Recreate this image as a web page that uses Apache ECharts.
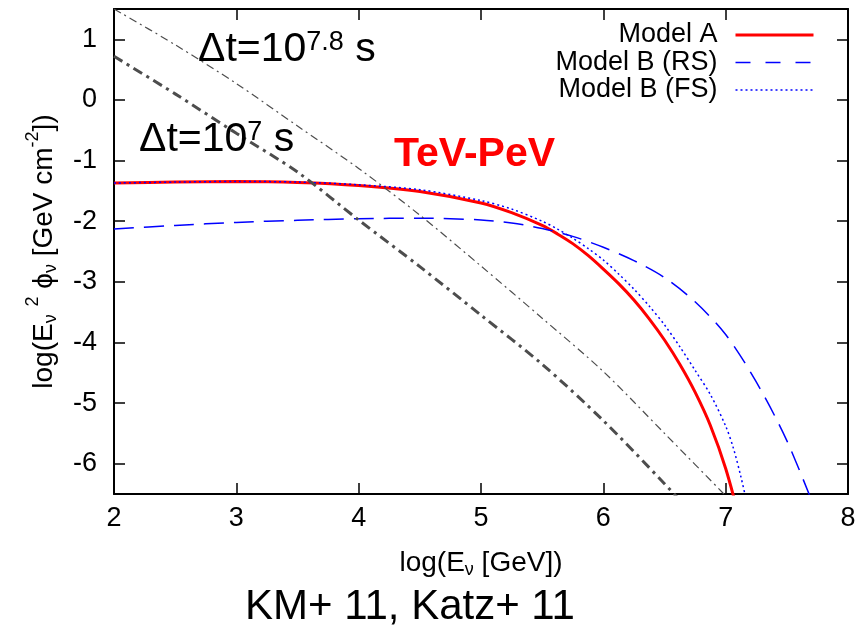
<!DOCTYPE html>
<html>
<head>
<meta charset="utf-8">
<script src="https://cdn.jsdelivr.net/npm/echarts@6/dist/echarts.min.js"></script>
<style>
  html, body { margin: 0; padding: 0; background: #ffffff; }
  #chart { width: 865px; height: 628px; }
</style>
</head>
<body>
<div id="chart"></div>
<script>
// Neutrino spectra: log10(E_nu / GeV) against log10(E_nu^2 phi_nu / GeV cm^-2)

// Model A
const energyModelA = [2, 2.5, 3, 3.5, 4, 4.5, 5, 5.25, 5.5, 5.625, 5.75, 5.875, 6, 6.125, 6.25, 6.375, 6.5, 6.625, 6.75, 6.875, 7, 7.125];
const fluxModelA   = [-1.37, -1.355, -1.345, -1.36, -1.41, -1.51, -1.70, -1.86, -2.07, -2.21, -2.37, -2.565, -2.79, -3.03, -3.30, -3.61, -3.96, -4.36, -4.82, -5.37, -6.08, -7.00];

// Model B, reverse shock
const energyModelBRS = [2, 2.5, 3, 3.5, 4, 4.5, 5, 5.25, 5.5, 5.75, 6, 6.25, 6.5, 6.75, 7, 7.25, 7.5, 7.75];
const fluxModelBRS   = [-2.13, -2.07, -2.02, -1.985, -1.96, -1.95, -1.98, -2.03, -2.12, -2.25, -2.43, -2.65, -2.93, -3.33, -3.87, -4.65, -5.62, -6.85];

// Model B, forward shock
const energyModelBFS = [2, 2.5, 3, 3.5, 4, 4.5, 5, 5.25, 5.5, 5.625, 5.75, 5.875, 6, 6.125, 6.25, 6.375, 6.5, 6.625, 6.75, 6.875, 7, 7.0625, 7.125, 7.1875];
const fluxModelBFS   = [-1.37, -1.355, -1.345, -1.355, -1.40, -1.48, -1.66, -1.80, -2.00, -2.13, -2.28, -2.45, -2.64, -2.87, -3.12, -3.40, -3.71, -4.07, -4.46, -4.86, -5.38, -5.74, -6.22, -6.78];

// Atmospheric background integrated over dt = 10^7.8 s
const energyLong = [2, 2.5, 3, 3.5, 4, 4.5, 5, 5.5, 6, 6.5, 7, 7.1];
const fluxLong   = [1.50, 0.91, 0.27, -0.43, -1.13, -1.90, -2.74, -3.60, -4.48, -5.50, -6.53, -6.75];

// Atmospheric background integrated over dt = 10^7 s
const energyShort = [2, 2.5, 3, 3.5, 4, 4.5, 5, 5.5, 6, 6.5, 6.75];
const fluxShort   = [0.72, 0.10, -0.55, -1.19, -1.98, -2.75, -3.55, -4.36, -5.29, -6.33, -6.88];

// Axis ticks
const xTicks = [2, 3, 4, 5, 6, 7, 8];
const yTicks = [-6, -5, -4, -3, -2, -1, 0, 1];

const seriesNames = ['Model A', 'Model B (RS)', 'Model B (FS)'];

const FONT = '"Liberation Sans", Arial, Helvetica, sans-serif';
const GRAY = '#4d4d4d';
const NO_SYMBOL = { color: 'rgba(0,0,0,0)', borderColor: 'rgba(0,0,0,0)', borderWidth: 0 };

const toPairs = (xs, ys) => xs.map((x, i) => [x, ys[i]]);

const chart = echarts.init(document.getElementById('chart'), null, { renderer: 'canvas' });

const frameLine = { show: true, onZero: false, lineStyle: { color: '#000', width: 2 } };
const innerTick = { show: true, inside: true, length: 11, lineStyle: { color: '#000', width: 1.5 } };

// sub- and superscripts inside the axis titles
const richScripts = {
  sub: { fontSize: 18, verticalAlign: 'bottom', fontFamily: FONT, color: '#000' },
  sup: { fontSize: 18, height: 10, verticalAlign: 'top', fontFamily: FONT, color: '#000' }
};

const curve = (name, xs, ys, lineStyle, z) => ({
  name, type: 'line', xAxisIndex: 0, yAxisIndex: 0,
  data: toPairs(xs, ys),
  showSymbol: false, symbol: 'none', smooth: 0.3,
  lineStyle, itemStyle: { color: lineStyle.color }, z
});

const option = {
  animation: false,
  backgroundColor: '#ffffff',
  grid: { left: 114, right: 17, top: 9, bottom: 134, containLabel: false },
  xAxis: [
    {
      type: 'value', position: 'bottom', min: 2, max: 8, interval: 1,
      axisLine: frameLine, axisTick: innerTick, splitLine: { show: false },
      axisLabel: { show: true, margin: 11, fontSize: 27, color: '#000', fontFamily: FONT },
      name: 'log(E{sub|ν} [GeV])',
      nameLocation: 'middle', nameGap: 53,
      nameTextStyle: { fontSize: 28, lineHeight: 32, color: '#000', fontFamily: FONT, rich: richScripts }
    },
    {
      type: 'value', position: 'top', min: 2, max: 8, interval: 1,
      axisLine: frameLine, axisTick: innerTick, splitLine: { show: false },
      axisLabel: { show: false }
    }
  ],
  yAxis: [
    {
      type: 'value', position: 'left', min: -6.5, max: 1.5,
      axisLine: frameLine,
      axisTick: Object.assign({ customValues: yTicks }, innerTick),
      splitLine: { show: false },
      axisLabel: { show: true, customValues: yTicks, margin: 17, fontSize: 27, color: '#000', fontFamily: FONT },
      name: 'log(E{sub|ν} {sup|2} ϕ{sub|ν} [GeV cm{sup|-2}])',
      nameLocation: 'middle', nameGap: 54,
      nameTextStyle: { fontSize: 28, lineHeight: 32, color: '#000', fontFamily: FONT, rich: richScripts }
    },
    {
      type: 'value', position: 'right', min: -6.5, max: 1.5,
      axisLine: frameLine,
      axisTick: Object.assign({ customValues: yTicks }, innerTick),
      splitLine: { show: false },
      axisLabel: { show: false }
    }
  ],
  legend: {
    show: true,
    orient: 'vertical',
    align: 'right',
    right: 50,
    top: 21.5,
    padding: 0,
    itemWidth: 78,
    itemHeight: 14,
    itemGap: 0.5,
    selectedMode: false,
    textStyle: { fontSize: 27, lineHeight: 27, color: '#000', fontFamily: FONT, padding: [0, 13, 0, 0] },
    data: [
      { name: seriesNames[0], itemStyle: NO_SYMBOL, lineStyle: { color: '#ff0000', width: 3, type: 'solid' } },
      { name: seriesNames[1], itemStyle: NO_SYMBOL, lineStyle: { color: '#0000ff', width: 1.5, type: [15, 15] } },
      { name: seriesNames[2], itemStyle: NO_SYMBOL, lineStyle: { color: '#0000ff', width: 1.5, type: [2, 3] } }
    ]
  },
  series: [
    curve(seriesNames[0], energyModelA, fluxModelA, { color: '#ff0000', width: 3, type: 'solid' }, 2),
    curve(seriesNames[1], energyModelBRS, fluxModelBRS, { color: '#0000ff', width: 1.5, type: [20, 10] }, 3),
    curve(seriesNames[2], energyModelBFS, fluxModelBFS, { color: '#0000ff', width: 1.5, type: [2, 3] }, 4),
    curve('dt 10^7.8 s', energyLong, fluxLong, { color: GRAY, width: 1.2, type: [8, 4, 2, 4] }, 5),
    curve('dt 10^7 s', energyShort, fluxShort, { color: GRAY, width: 3, type: [10, 5, 3, 5] }, 6)
  ],
  graphic: [
    {
      type: 'text', x: 198, y: 50, z: 10,
      style: {
        text: 'Δt=10{sup|7.8} s',
        fontSize: 41, fontFamily: FONT, fill: '#000',
        align: 'left', verticalAlign: 'middle', textAlign: 'left', textVerticalAlign: 'middle',
        rich: { sup: { fontSize: 27, lineHeight: 27, verticalAlign: 'top', fontFamily: FONT, fill: '#000' } }
      }
    },
    {
      type: 'text', x: 139, y: 140, z: 10,
      style: {
        text: 'Δt=10{sup|7} s',
        fontSize: 41, fontFamily: FONT, fill: '#000',
        align: 'left', verticalAlign: 'middle', textAlign: 'left', textVerticalAlign: 'middle',
        rich: { sup: { fontSize: 27, lineHeight: 27, verticalAlign: 'top', fontFamily: FONT, fill: '#000' } }
      }
    },
    {
      type: 'text', x: 394, y: 155, z: 10,
      style: {
        text: 'TeV-PeV',
        fontSize: 41, fontWeight: 'bold', fontFamily: FONT, fill: '#ff0000',
        align: 'left', verticalAlign: 'middle', textAlign: 'left', textVerticalAlign: 'middle'
      }
    },
    {
      type: 'text', x: 245, y: 607, z: 10,
      style: {
        text: 'KM+ 11, Katz+ 11',
        fontSize: 42, fontFamily: FONT, fill: '#000',
        align: 'left', verticalAlign: 'middle', textAlign: 'left', textVerticalAlign: 'middle'
      }
    }
  ]
};

chart.setOption(option);
</script>
</body>
</html>
